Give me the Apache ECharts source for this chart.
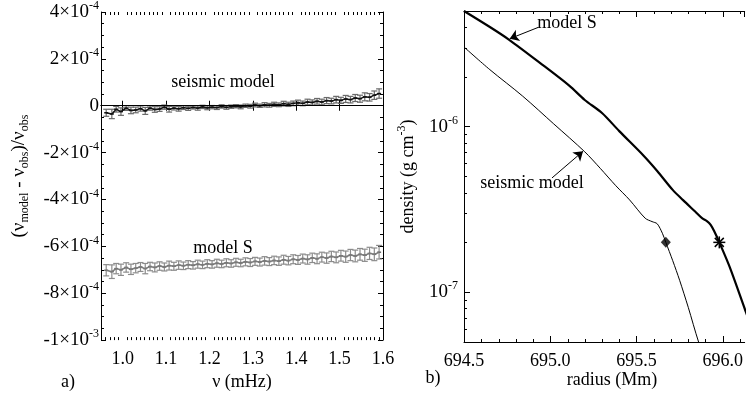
<!DOCTYPE html>
<html><head><meta charset="utf-8">
<script src="https://cdn.jsdelivr.net/npm/echarts@6/dist/echarts.min.js"></script>
<style>html,body{margin:0;padding:0;background:#fff}#c{width:746px;height:396px}</style>
</head><body><div id="c"></div>
<script>
// ---------- panel a) data ----------
const freq = [0.962,0.975,0.985,0.996,1.008,1.019,1.030,1.041,1.052,1.063,1.074,1.085,1.096,1.107,1.118,1.129,1.140,1.151,1.162,1.173,1.184,1.195,1.206,1.217,1.228,1.239,1.250,1.261,1.272,1.283,1.294,1.305,1.316,1.327,1.338,1.349,1.360,1.371,1.382,1.393,1.404,1.415,1.426,1.437,1.448,1.459,1.470,1.481,1.492,1.503,1.514,1.525,1.536,1.547,1.558,1.569,1.580,1.591];
const seismicResid = [-3.0e-5,-3.5e-5,-1.5e-5,-2.5e-5,-1.0e-5,-2.0e-5,-1.8e-5,-1.2e-5,-2.2e-5,-1.0e-5,-1.6e-5,-1.4e-5,-0.6e-5,-1.5e-5,-1.0e-5,-1.3e-5,-0.8e-5,-1.1e-5,-0.7e-5,-1.0e-5,-0.5e-5,-0.9e-5,-0.6e-5,-0.8e-5,-0.3e-5,-0.7e-5,-0.4e-5,-0.2e-5,-0.5e-5,0.0,-0.2e-5,0.3e-5,0.0,0.4e-5,0.2e-5,0.6e-5,0.4e-5,0.9e-5,0.6e-5,1.0e-5,1.3e-5,1.0e-5,1.6e-5,1.4e-5,1.9e-5,1.6e-5,2.2e-5,2.0e-5,2.6e-5,2.3e-5,2.9e-5,2.6e-5,3.3e-5,3.0e-5,3.8e-5,3.6e-5,4.5e-5,5.2e-5];
const seismicErr = [1.5e-5,2.0e-5,1.2e-5,1.6e-5,1.0e-5,1.4e-5,1.2e-5,1.1e-5,1.5e-5,0.9e-5,1.2e-5,1.0e-5,0.9e-5,1.2e-5,0.8e-5,1.0e-5,0.8e-5,0.9e-5,0.7e-5,0.9e-5,0.7e-5,0.8e-5,0.7e-5,0.8e-5,0.7e-5,0.8e-5,0.7e-5,0.7e-5,0.8e-5,0.7e-5,0.8e-5,0.8e-5,0.7e-5,0.9e-5,0.8e-5,0.9e-5,0.8e-5,1.0e-5,0.9e-5,1.0e-5,1.1e-5,1.0e-5,1.2e-5,1.1e-5,1.2e-5,1.2e-5,1.3e-5,1.2e-5,1.4e-5,1.3e-5,1.5e-5,1.4e-5,1.5e-5,1.5e-5,1.7e-5,1.6e-5,1.8e-5,2.0e-5];
const modelSResid = [-7.02e-4,-7.08e-4,-6.95e-4,-7.00e-4,-6.90e-4,-6.98e-4,-6.93e-4,-6.88e-4,-6.95e-4,-6.86e-4,-6.90e-4,-6.84e-4,-6.88e-4,-6.82e-4,-6.85e-4,-6.80e-4,-6.83e-4,-6.78e-4,-6.81e-4,-6.76e-4,-6.79e-4,-6.74e-4,-6.77e-4,-6.72e-4,-6.75e-4,-6.70e-4,-6.73e-4,-6.68e-4,-6.71e-4,-6.66e-4,-6.69e-4,-6.64e-4,-6.67e-4,-6.62e-4,-6.65e-4,-6.60e-4,-6.63e-4,-6.57e-4,-6.61e-4,-6.55e-4,-6.58e-4,-6.52e-4,-6.56e-4,-6.49e-4,-6.53e-4,-6.46e-4,-6.50e-4,-6.43e-4,-6.47e-4,-6.40e-4,-6.44e-4,-6.37e-4,-6.41e-4,-6.34e-4,-6.38e-4,-6.30e-4,-6.34e-4,-6.25e-4];
const modelSErr = [2.4e-5,2.9e-5,2.2e-5,2.4e-5,2.0e-5,2.2e-5,2.0e-5,1.9e-5,2.2e-5,1.8e-5,1.9e-5,1.8e-5,1.7e-5,1.9e-5,1.7e-5,1.8e-5,1.6e-5,1.7e-5,1.6e-5,1.7e-5,1.6e-5,1.7e-5,1.6e-5,1.7e-5,1.6e-5,1.7e-5,1.6e-5,1.7e-5,1.6e-5,1.7e-5,1.7e-5,1.7e-5,1.7e-5,1.8e-5,1.7e-5,1.8e-5,1.8e-5,1.9e-5,1.8e-5,1.9e-5,1.9e-5,1.9e-5,2.0e-5,2.0e-5,2.1e-5,2.1e-5,2.2e-5,2.2e-5,2.3e-5,2.3e-5,2.4e-5,2.4e-5,2.5e-5,2.5e-5,2.6e-5,2.6e-5,2.7e-5,2.9e-5];
const leftYTickValues = [-1e-3,-8e-4,-6e-4,-4e-4,-2e-4,0,2e-4,4e-4];
const leftYTickLabels = ['{b|-1×10}{s|-3}','{b|-8×10}{s|-4}','{b|-6×10}{s|-4}','{b|-4×10}{s|-4}','{b|-2×10}{s|-4}','{b|0}','{b|2×10}{s|-4}','{b|4×10}{s|-4}'];
const leftXTickValues = [1.0,1.1,1.2,1.3,1.4,1.5,1.6];
const leftXTickLabels = ['1.0','1.1','1.2','1.3','1.4','1.5','1.6'];

// ---------- panel b) data ----------
const radiusModelS = [694.50,694.65,694.76,694.94,695.11,695.20,695.30,695.40,695.54,695.62,695.71,695.77,695.84,695.88,695.91,695.93,695.95,695.98,696.04,696.13,696.20];
const densityModelS = [5.0e-6,4.0e-6,3.36e-6,2.43e-6,1.77e-6,1.45e-6,1.21e-6,9.4e-7,6.7e-7,5.4e-7,4.15e-7,3.6e-7,3.07e-7,2.8e-7,2.68e-7,2.55e-7,2.34e-7,2.0e-7,1.42e-7,7.8e-8,4.9e-8];
const radiusSeismic = [694.50,694.65,694.84,695.02,695.20,695.29,695.38,695.46,695.55,695.59,695.62,695.65,695.67,695.71,695.75,695.80,695.86,695.90];
const densitySeismic = [3.03e-6,2.21e-6,1.53e-6,1.04e-6,7.05e-7,5.6e-7,4.4e-7,3.61e-7,2.8e-7,2.67e-7,2.59e-7,2.27e-7,2.0e-7,1.55e-7,1.18e-7,8.1e-8,5.0e-8,3.9e-8];
const markerSeismic = [695.67, 2.0e-7];
const markerModelS = [695.98, 2.0e-7];
const rightYTickValues = [1e-7, 1e-6];
const rightYTickLabels = ['{b|10}{s|-7}','{b|10}{s|-6}'];
const rightYMinorValues = [6e-8,7e-8,8e-8,9e-8,2e-7,3e-7,4e-7,5e-7,6e-7,7e-7,8e-7,9e-7,2e-6,3e-6,4e-6];
const rightXTickValues = [694.5,695.0,695.5,696.0];
const rightXTickLabels = ['694.5','695.0','695.5','696.0'];
const rightXMinorValues = [694.6,694.7,694.8,694.9,695.1,695.2,695.3,695.4,695.6,695.7,695.8,695.9,696.1];

const FONT = 'Liberation Serif';
const leftXMinor = [];
for (let i = 96; i <= 159; i++) { if (i % 10 !== 0) leftXMinor.push([i / 100, 0]); }

const chart = echarts.init(document.getElementById('c'), null, {renderer: 'canvas'});

const tickRich = {
  b: {fontFamily: FONT, fontSize: 19, lineHeight: 24, color: '#000'},
  s: {fontFamily: FONT, fontSize: 12, lineHeight: 12, verticalAlign: 'top', color: '#000'}
};
const axLine = {show: true, lineStyle: {color: '#000', width: 1}};

function errRender(barColor, dotColor) {
  return function (params, api) {
    const x = api.value(0), y = api.value(1), e = api.value(2);
    const p = api.coord([x, y]), lo = api.coord([x, y - e]), hi = api.coord([x, y + e]);
    const st = {stroke: barColor, lineWidth: 1.2};
    return {type: 'group', children: [
      {type: 'line', shape: {x1: p[0], y1: lo[1], x2: p[0], y2: hi[1]}, style: st},
      {type: 'line', shape: {x1: p[0] - 3, y1: lo[1], x2: p[0] + 3, y2: lo[1]}, style: st},
      {type: 'line', shape: {x1: p[0] - 3, y1: hi[1], x2: p[0] + 3, y2: hi[1]}, style: st},
      {type: 'line', shape: {x1: p[0] - 2, y1: p[1], x2: p[0] + 2, y2: p[1]}, style: {stroke: dotColor, lineWidth: 1.5}}
    ]};
  };
}

function findLabel(v, vals, labels) {
  for (let i = 0; i < vals.length; i++) {
    if (Math.abs(v - vals[i]) <= Math.abs(vals[i]) * 1e-6 + 1e-12) return labels[i];
  }
  return '';
}

function xMinorRender(yMin, yMax) {
  return (params, api) => {
    const v = api.value(0);
    const b = api.coord([v, yMin]), t = api.coord([v, yMax]);
    const x = Math.round(b[0]) + 0.5;
    return {type: 'group', children: [
      {type: 'line', shape: {x1: x, y1: b[1], x2: x, y2: b[1] - 3}, style: {stroke: '#000', lineWidth: 1}},
      {type: 'line', shape: {x1: x, y1: t[1], x2: x, y2: t[1] + 3}, style: {stroke: '#000', lineWidth: 1}}
    ]};
  };
}

const option = {
  animation: false,
  backgroundColor: '#fff',
  grid: [
    {left: 101, top: 10, width: 282, height: 336},
    {left: 464, top: 11, width: 282, height: 331}
  ],
  xAxis: [
    {gridIndex: 0, type: 'value', min: 0.95, max: 1.6, position: 'bottom',
     axisLine: axLine, splitLine: {show: false},
     axisTick: {inside: true, length: 5, lineStyle: {color: '#000'}},
     axisLabel: {margin: 10, showMinLabel: false, color: '#000', fontFamily: FONT, fontSize: 18,
       formatter: v => findLabel(v, leftXTickValues, leftXTickLabels)},
     name: 'ν (mHz)', nameLocation: 'middle', nameGap: 30,
     nameTextStyle: {fontFamily: FONT, fontSize: 18, color: '#000'}},
    {gridIndex: 0, type: 'value', min: 0.95, max: 1.6, position: 'top',
     axisLine: axLine, splitLine: {show: false},
     axisTick: {inside: true, length: 5, lineStyle: {color: '#000'}},
     axisLabel: {show: false}},
    {gridIndex: 1, type: 'value', min: 694.5, max: 696.127, interval: 0.5, position: 'bottom',
     axisLine: axLine, splitLine: {show: false},
     axisTick: {inside: true, length: 6, lineStyle: {color: '#000'}},
     axisLabel: {margin: 10, showMaxLabel: false, color: '#000', fontFamily: FONT, fontSize: 18,
       formatter: v => findLabel(v, rightXTickValues, rightXTickLabels)}},
    {gridIndex: 1, type: 'value', min: 694.5, max: 696.127, interval: 0.5, position: 'top',
     axisLine: axLine, splitLine: {show: false},
     axisTick: {inside: true, length: 6, lineStyle: {color: '#000'}},
     axisLabel: {show: false}}
  ],
  yAxis: [
    {gridIndex: 0, type: 'value', min: -1e-3, max: 4e-4, interval: 2e-4, position: 'left',
     axisLine: axLine, splitLine: {show: false},
     axisTick: {inside: true, length: 5, lineStyle: {color: '#000'}},
     minorTick: {show: true, splitNumber: 4, length: 3, lineStyle: {color: '#000'}},
     axisLabel: {margin: 2, rich: tickRich, formatter: v => findLabel(v, leftYTickValues, leftYTickLabels)},
     name: '{n|(ν}{d|model}{n| - ν}{d|obs}{n|)/ν}{d|obs}', nameLocation: 'middle', nameGap: 70, nameRotate: 90,
     nameTextStyle: {rich: {
       n: {fontFamily: FONT, fontSize: 19, lineHeight: 24, color: '#000'},
       d: {fontFamily: FONT, fontSize: 12, lineHeight: 12, verticalAlign: 'bottom', color: '#000'}}}},
    {gridIndex: 0, type: 'value', min: -1e-3, max: 4e-4, interval: 2e-4, position: 'right',
     axisLine: axLine, splitLine: {show: false},
     axisTick: {inside: true, length: 5, lineStyle: {color: '#000'}},
     minorTick: {show: true, splitNumber: 4, length: 3, lineStyle: {color: '#000'}},
     axisLabel: {show: false}},
    {gridIndex: 1, type: 'log', logBase: 10, min: 5e-8, max: 5e-6, position: 'left',
     axisLine: axLine, splitLine: {show: false},
     axisTick: {inside: true, length: 6, lineStyle: {color: '#000'}},
     axisLabel: {margin: 6, showMinLabel: false, showMaxLabel: false, rich: tickRich,
       formatter: v => findLabel(v, rightYTickValues, rightYTickLabels)},
     name: '{n|density (g cm}{s|-3}{n|)}', nameLocation: 'middle', nameGap: 44, nameRotate: 90,
     nameTextStyle: {rich: {
       n: {fontFamily: FONT, fontSize: 18, lineHeight: 24, color: '#000'},
       s: {fontFamily: FONT, fontSize: 12, lineHeight: 12, verticalAlign: 'top', color: '#000'}}}}
  ],
  series: [
    // left panel minor x ticks (bottom and top)
    {type: 'custom', xAxisIndex: 0, yAxisIndex: 0, silent: true, clip: false, z: 5,
     data: leftXMinor, renderItem: xMinorRender(-1e-3, 4e-4)},
    // model S residuals
    {type: 'custom', xAxisIndex: 0, yAxisIndex: 0, silent: true, z: 2,
     data: freq.map((f, i) => [f, modelSResid[i], modelSErr[i]]),
     renderItem: errRender('#8c8c8c', '#6a6a6a')},
    {type: 'line', xAxisIndex: 0, yAxisIndex: 0, silent: true, z: 2, symbol: 'none',
     lineStyle: {color: '#7a7a7a', width: 1.5},
     data: freq.map((f, i) => [f, modelSResid[i]])},
    // seismic model residuals
    {type: 'custom', xAxisIndex: 0, yAxisIndex: 0, silent: true, z: 3,
     data: freq.map((f, i) => [f, seismicResid[i], seismicErr[i]]),
     renderItem: errRender('#6a6a6a', '#111')},
    {type: 'line', xAxisIndex: 0, yAxisIndex: 0, silent: true, z: 3, symbol: 'none',
     lineStyle: {color: '#111', width: 1.4},
     data: freq.map((f, i) => [f, seismicResid[i]]),
     markLine: {silent: true, symbol: ['none', 'none'], label: {show: false},
       lineStyle: {color: '#000', width: 1, type: 'solid'}, data: [{yAxis: 0}]}},
    // right panel minor ticks
    {type: 'custom', xAxisIndex: 2, yAxisIndex: 2, silent: true, clip: false, z: 5,
     data: rightYMinorValues.map(v => [694.5, v]),
     renderItem: (params, api) => {
       const c = api.coord([api.value(0), api.value(1)]);
       const y = Math.round(c[1]) + 0.5;
       return {type: 'line', shape: {x1: c[0], y1: y, x2: c[0] + 3, y2: y}, style: {stroke: '#000', lineWidth: 1}};
     }},
    {type: 'custom', xAxisIndex: 2, yAxisIndex: 2, silent: true, clip: false, z: 5,
     data: rightXMinorValues.map(v => [v, 1e-7]), renderItem: xMinorRender(5e-8, 5e-6)},
    // density curves
    {type: 'line', xAxisIndex: 2, yAxisIndex: 2, silent: true, symbol: 'none', smooth: 0.3,
     lineStyle: {color: '#000', width: 2.2},
     data: radiusModelS.map((r, i) => [r, densityModelS[i]]),
     markLine: {silent: true, symbol: ['none', 'arrow'], symbolSize: 9, label: {show: false},
       lineStyle: {color: '#000', width: 1, type: 'solid'},
       data: [[{coord: [694.93, 3.98e-6]}, {coord: [694.765, 3.40e-6]}]]}},
    {type: 'line', xAxisIndex: 2, yAxisIndex: 2, silent: true, symbol: 'none', smooth: 0.3,
     lineStyle: {color: '#000', width: 1},
     data: radiusSeismic.map((r, i) => [r, densitySeismic[i]]),
     markLine: {silent: true, symbol: ['none', 'arrow'], symbolSize: 9, label: {show: false},
       lineStyle: {color: '#000', width: 1, type: 'solid'},
       data: [[{coord: [695.01, 4.9e-7]}, {coord: [695.19, 7.1e-7]}]]}},
    {type: 'scatter', xAxisIndex: 2, yAxisIndex: 2, silent: true, symbol: 'diamond', symbolSize: [10, 11],
     itemStyle: {color: '#000'}, data: [markerSeismic]},
    {type: 'custom', xAxisIndex: 2, yAxisIndex: 2, silent: true, z: 4, data: [markerModelS],
     renderItem: (params, api) => {
       const c = api.coord([api.value(0), api.value(1)]);
       const r = 6, st = {stroke: '#000', lineWidth: 1.5};
       return {type: 'group', children: [
         {type: 'line', shape: {x1: c[0] - r, y1: c[1], x2: c[0] + r, y2: c[1]}, style: st},
         {type: 'line', shape: {x1: c[0], y1: c[1] - r, x2: c[0], y2: c[1] + r}, style: st},
         {type: 'line', shape: {x1: c[0] - r * 0.75, y1: c[1] - r * 0.75, x2: c[0] + r * 0.75, y2: c[1] + r * 0.75}, style: st},
         {type: 'line', shape: {x1: c[0] - r * 0.75, y1: c[1] + r * 0.75, x2: c[0] + r * 0.75, y2: c[1] - r * 0.75}, style: st}
       ]};
     }}
  ],
  graphic: [
    {type: 'text', x: 223, y: 82, silent: true, style: {text: 'seismic model', fontFamily: FONT, fontSize: 18, fill: '#000', align: 'center', verticalAlign: 'middle'}},
    {type: 'text', x: 223, y: 248, silent: true, style: {text: 'model S', fontFamily: FONT, fontSize: 18, fill: '#000', align: 'center', verticalAlign: 'middle'}},
    {type: 'text', x: 567, y: 23, silent: true, style: {text: 'model S', fontFamily: FONT, fontSize: 18, fill: '#000', align: 'center', verticalAlign: 'middle'}},
    {type: 'text', x: 532, y: 183, silent: true, style: {text: 'seismic model', fontFamily: FONT, fontSize: 18, fill: '#000', align: 'center', verticalAlign: 'middle'}},
    {type: 'text', x: 612, y: 380, silent: true, style: {text: 'radius (Mm)', fontFamily: FONT, fontSize: 18, fill: '#000', align: 'center', verticalAlign: 'middle'}},
    {type: 'text', x: 68, y: 382, silent: true, style: {text: 'a)', fontFamily: FONT, fontSize: 18, fill: '#000', align: 'center', verticalAlign: 'middle'}},
    {type: 'text', x: 433, y: 378, silent: true, style: {text: 'b)', fontFamily: FONT, fontSize: 18, fill: '#000', align: 'center', verticalAlign: 'middle'}}
  ]
};
chart.setOption(option);
</script>
</body></html>
